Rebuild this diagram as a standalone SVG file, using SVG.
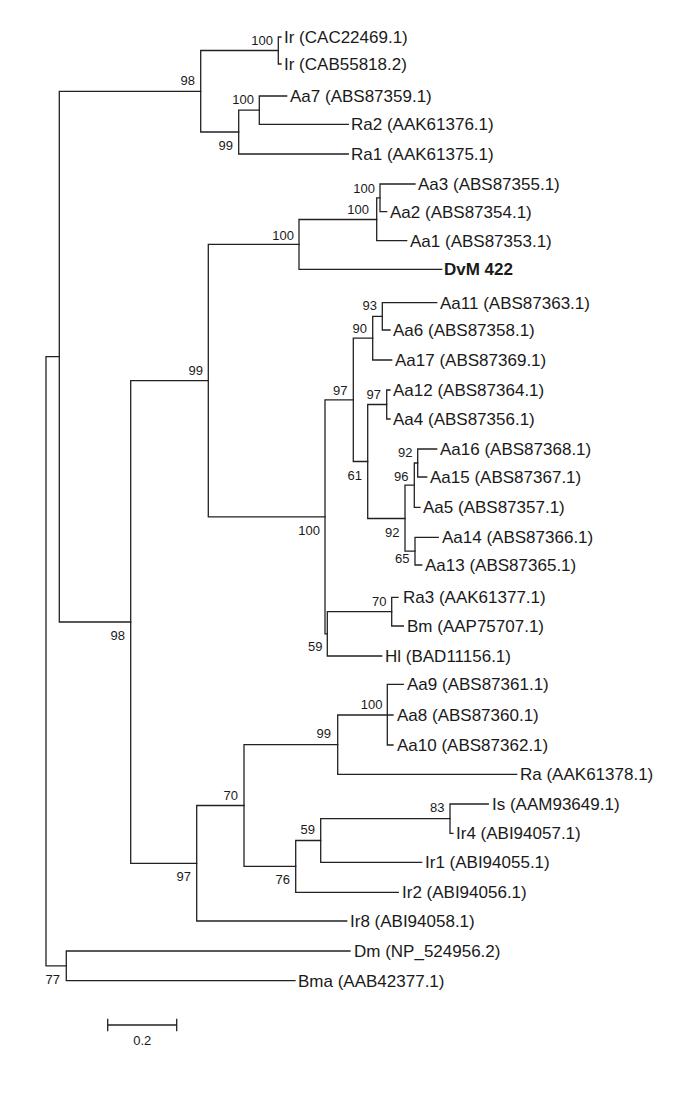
<svg xmlns="http://www.w3.org/2000/svg" width="685" height="1096" viewBox="0 0 685 1096">
<style>
.br{fill:none;stroke:#222;stroke-width:1.3;stroke-linecap:square}
.lf{font-family:"Liberation Sans",Arial,sans-serif;font-size:17px;fill:#1a1a1a}
.bd{font-weight:bold}
.bs{font-family:"Liberation Sans",Arial,sans-serif;font-size:13px;fill:#1a1a1a;text-anchor:end}
.sc{font-family:"Liberation Sans",Arial,sans-serif;font-size:13px;fill:#1a1a1a;text-anchor:middle}
</style>
<rect width="685" height="1096" fill="#fff"/>
<g id="connectors" class="br">
<path d="M59.3 356.6H46V965.9H66.3"/>
<path d="M200.7 91.3H59.3V622H130.7"/>
<path d="M278.3 50.5H200.7V132H238.7"/>
<path d="M281 37H278.3V64H281"/>
<path d="M259.3 110.2H238.7V154H348.3"/>
<path d="M286.7 96H259.3V124.3H348.3"/>
<path d="M208.3 380.7H130.7V863.3H196.7"/>
<path d="M299 244.4H208.3V516.9H325"/>
<path d="M376.7 219.5H299V269.3H441.7"/>
<path d="M380 197.9H376.7V240.7H406.7"/>
<path d="M415 184H380V211.7H386.7"/>
<path d="M353.3 399.9H325V633.8H327.3"/>
<path d="M372.7 338.2H353.3V461.5H367.7"/>
<path d="M382.3 316.4H372.7V360H391.7"/>
<path d="M436.7 302.7H382.3V330H390"/>
<path d="M386.7 404.5H367.7V518.5H405"/>
<path d="M390 390H386.7V419H390"/>
<path d="M414.3 485.2H405V551.2H415"/>
<path d="M417.7 463H414.3V507.3H420"/>
<path d="M436.7 449H417.7V477H426.7"/>
<path d="M438.3 537.3H415V565H421.7"/>
<path d="M391.7 611.7H327.3V656H381.7"/>
<path d="M398 597.3H391.7V626H403.3"/>
<path d="M244 805.5H196.7V921H346.7"/>
<path d="M337.7 744.7H244V866.4H295.7"/>
<path d="M387.3 715H337.7V774.3H516.7"/>
<path d="M403.3 684.3H387.3V745H393M387.3 715H393"/>
<path d="M320.7 840.5H295.7V892.3H398.3"/>
<path d="M450 818.7H320.7V862.3H421.7"/>
<path d="M488.3 804H450V833.3H453"/>
<path d="M350 951H66.3V980.7H295"/>
</g>
<g id="leaves">
<g id="leaf-ir-cac"><text class="lf" x="284" y="43">Ir (CAC22469.1)</text></g>
<g id="leaf-ir-cab"><text class="lf" x="284" y="70">Ir (CAB55818.2)</text></g>
<g id="leaf-aa7"><text class="lf" x="290" y="102">Aa7 (ABS87359.1)</text></g>
<g id="leaf-ra2"><text class="lf" x="351" y="130.3">Ra2 (AAK61376.1)</text></g>
<g id="leaf-ra1"><text class="lf" x="351" y="160">Ra1 (AAK61375.1)</text></g>
<g id="leaf-aa3"><text class="lf" x="418" y="190">Aa3 (ABS87355.1)</text></g>
<g id="leaf-aa2"><text class="lf" x="390" y="217.7">Aa2 (ABS87354.1)</text></g>
<g id="leaf-aa1"><text class="lf" x="410" y="246.7">Aa1 (ABS87353.1)</text></g>
<g id="leaf-dvm"><text class="lf bd" x="444" y="275.3">DvM 422</text></g>
<g id="leaf-aa11"><text class="lf" x="440" y="308.7">Aa11 (ABS87363.1)</text></g>
<g id="leaf-aa6"><text class="lf" x="393" y="336">Aa6 (ABS87358.1)</text></g>
<g id="leaf-aa17"><text class="lf" x="395" y="366">Aa17 (ABS87369.1)</text></g>
<g id="leaf-aa12"><text class="lf" x="393" y="396">Aa12 (ABS87364.1)</text></g>
<g id="leaf-aa4"><text class="lf" x="393" y="425">Aa4 (ABS87356.1)</text></g>
<g id="leaf-aa16"><text class="lf" x="440" y="455">Aa16 (ABS87368.1)</text></g>
<g id="leaf-aa15"><text class="lf" x="430" y="483">Aa15 (ABS87367.1)</text></g>
<g id="leaf-aa5"><text class="lf" x="423" y="513.3">Aa5 (ABS87357.1)</text></g>
<g id="leaf-aa14"><text class="lf" x="442" y="543.3">Aa14 (ABS87366.1)</text></g>
<g id="leaf-aa13"><text class="lf" x="425" y="571">Aa13 (ABS87365.1)</text></g>
<g id="leaf-ra3"><text class="lf" x="403" y="603.3">Ra3 (AAK61377.1)</text></g>
<g id="leaf-bm"><text class="lf" x="407" y="632">Bm (AAP75707.1)</text></g>
<g id="leaf-hl"><text class="lf" x="385" y="662">Hl (BAD11156.1)</text></g>
<g id="leaf-aa9"><text class="lf" x="407" y="690.3">Aa9 (ABS87361.1)</text></g>
<g id="leaf-aa8"><text class="lf" x="397" y="721">Aa8 (ABS87360.1)</text></g>
<g id="leaf-aa10"><text class="lf" x="397" y="751">Aa10 (ABS87362.1)</text></g>
<g id="leaf-ra"><text class="lf" x="520" y="780.3">Ra (AAK61378.1)</text></g>
<g id="leaf-is"><text class="lf" x="492" y="810">Is (AAM93649.1)</text></g>
<g id="leaf-ir4"><text class="lf" x="456" y="839.3">Ir4 (ABI94057.1)</text></g>
<g id="leaf-ir1"><text class="lf" x="425" y="868.3">Ir1 (ABI94055.1)</text></g>
<g id="leaf-ir2"><text class="lf" x="402" y="898.3">Ir2 (ABI94056.1)</text></g>
<g id="leaf-ir8"><text class="lf" x="350" y="927">Ir8 (ABI94058.1)</text></g>
<g id="leaf-dm"><text class="lf" x="354" y="957">Dm (NP_524956.2)</text></g>
<g id="leaf-bma"><text class="lf" x="298" y="986.7">Bma (AAB42377.1)</text></g>
</g>
<g id="bootstrap">
<g id="n1"><text class="bs" x="273" y="45">100</text></g>
<g id="n2"><text class="bs" x="195" y="85">98</text></g>
<g id="n3"><text class="bs" x="254" y="104">100</text></g>
<g id="n4"><text class="bs" x="233" y="150">99</text></g>
<g id="n5"><text class="bs" x="294" y="239.5">100</text></g>
<g id="n6"><text class="bs" x="369" y="214">100</text></g>
<g id="n7"><text class="bs" x="375" y="193">100</text></g>
<g id="n8"><text class="bs" x="203" y="375.4">99</text></g>
<g id="n9"><text class="bs" x="377" y="310">93</text></g>
<g id="n10"><text class="bs" x="367" y="333">90</text></g>
<g id="n11"><text class="bs" x="347.5" y="394.7">97</text></g>
<g id="n12"><text class="bs" x="381" y="398.5">97</text></g>
<g id="n13"><text class="bs" x="362" y="479.7">61</text></g>
<g id="n14"><text class="bs" x="412.5" y="457.4">92</text></g>
<g id="n15"><text class="bs" x="408.5" y="480.7">96</text></g>
<g id="n16"><text class="bs" x="399.5" y="537">92</text></g>
<g id="n17"><text class="bs" x="409.5" y="563">65</text></g>
<g id="n18"><text class="bs" x="320" y="534.7">100</text></g>
<g id="n19"><text class="bs" x="386.5" y="606.4">70</text></g>
<g id="n20"><text class="bs" x="322.5" y="651.4">59</text></g>
<g id="n21"><text class="bs" x="125" y="640.4">98</text></g>
<g id="n22"><text class="bs" x="382.5" y="708.5">100</text></g>
<g id="n23"><text class="bs" x="331" y="738.3">99</text></g>
<g id="n24"><text class="bs" x="238" y="799.7">70</text></g>
<g id="n25"><text class="bs" x="444.5" y="811.8">83</text></g>
<g id="n26"><text class="bs" x="315" y="834">59</text></g>
<g id="n27"><text class="bs" x="290" y="884">76</text></g>
<g id="n28"><text class="bs" x="191" y="881.4">97</text></g>
<g id="n29"><text class="bs" x="60" y="983.7">77</text></g>
</g>
<g id="scale-bar">
<path class="br" d="M107.7 1025H176.7M107.7 1019.5V1030.5M176.7 1019.5V1030.5"/>
<text class="sc" x="142.2" y="1045">0.2</text>
</g>
</svg>
